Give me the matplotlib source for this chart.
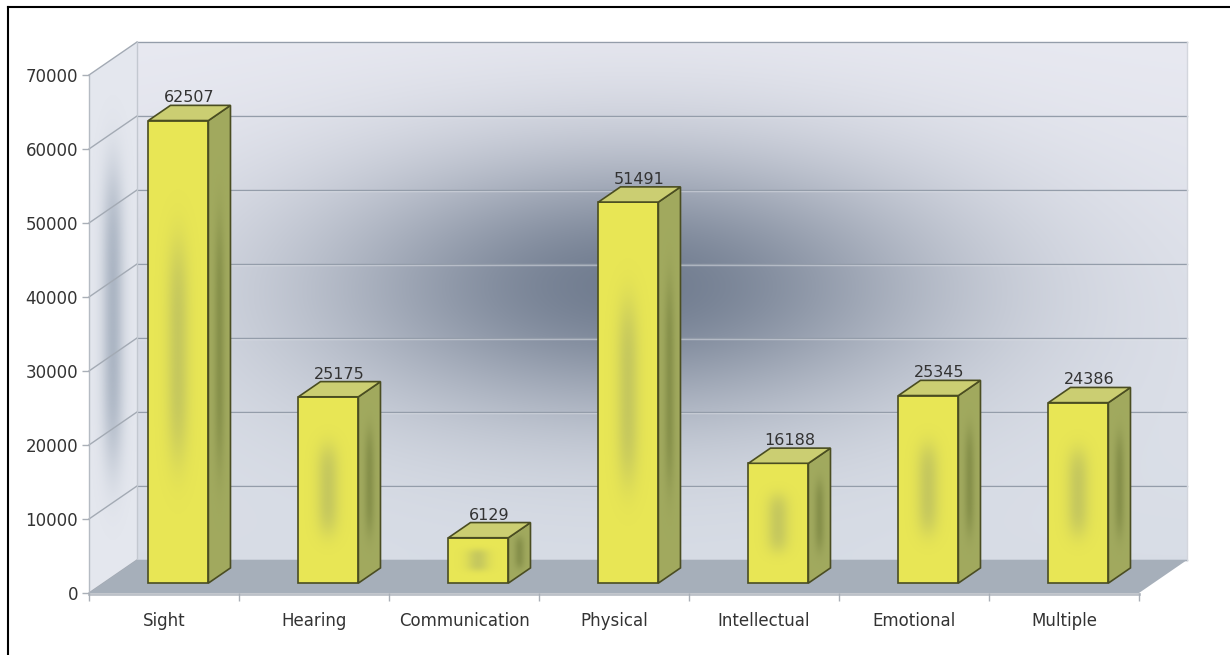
import numpy as np
import matplotlib
matplotlib.use("Agg")
import matplotlib.pyplot as plt
from matplotlib.colors import to_rgb
from matplotlib.lines import Line2D
from matplotlib.patches import Polygon
from matplotlib.transforms import ScaledTranslation, IdentityTransform

# ---- data -------------------------------------------------------------
categories = ["Sight", "Hearing", "Communication", "Physical",
              "Intellectual", "Emotional", "Multiple"]
counts = [62507, 25175, 6129, 51491, 16188, 25345, 24386]
y_ticks = [0, 10000, 20000, 30000, 40000, 50000, 60000, 70000]

# ---- layout -----------------------------------------------------------
W, H, DPI = 1230, 655, 100
DEPTH = (48.0, 33.0)              # oblique depth of the floor, in pixels
BAR_FRONT, BAR_BACK = 0.30, 0.76  # depth fractions of the bar faces
BAR_W = 0.4
TEXT = "#333333"
EDGE = "#4a4d21"

fig = plt.figure(figsize=(W / DPI, H / DPI), dpi=DPI)
fig.patch.set_facecolor("white")

# background layer in pixel units for the walls and floor
bg = fig.add_axes([0, 0, 1, 1])
bg.set_xlim(0, W)
bg.set_ylim(0, H)
bg.set_autoscale_on(False)
bg.axis("off")
bg.set_zorder(0)

# front plane of the chart
ax = fig.add_axes([89 / W, 62 / H, 1050 / W, 518 / H])
ax.set_zorder(1)
ax.patch.set_visible(False)
ymax = y_ticks[-1]
xl, xr = -0.5, len(categories) - 0.5
ax.set_xlim(xl, xr)
ax.set_ylim(0, ymax)
ax.set_autoscale_on(False)
for s in ax.spines.values():
    s.set_visible(False)


def shift(fx, fy=None, extra_y=0.0):
    if fy is None:
        fy = fx
    return ScaledTranslation(fx * DEPTH[0] / DPI, (fy * DEPTH[1] + extra_y) / DPI,
                             fig.dpi_scale_trans)


def proj(xv, v, f):
    """Display position of data point (xv, v) pushed back to depth f."""
    px, py = ax.transData.transform((xv, v))
    return (px + f * DEPTH[0], py + f * DEPTH[1])


def to_bg(pts):
    return bg.transData.inverted().transform(np.asarray(pts))


# ---- back wall with its soft dark glow ---------------------------------
(bx0, by0), = to_bg([proj(xl, 0, 1)])
(bx1, by1), = to_bg([proj(xr, ymax, 1)])
U, V = np.meshgrid(np.linspace(0, 1, 420), np.linspace(0, 1, 220))
top_c = np.array(to_rgb("#e8e9f1"))
bot_c = np.array(to_rgb("#d8dde6"))
base = bot_c + (top_c - bot_c) * V[..., None]
glow = 0.78 * np.exp(-((U - 0.47) / 0.30) ** 2 - ((V - 0.53) / 0.26) ** 2)
dark = np.array(to_rgb("#526076"))
wall = base * (1 - glow[..., None]) + dark * glow[..., None]
bg.imshow(wall, extent=(bx0, bx1, by0, by1), origin="lower", aspect="auto",
          interpolation="bilinear", zorder=1)

# ---- left side wall -----------------------------------------------------
lw_pts = to_bg([proj(xl, 0, 0), proj(xl, 0, 1), proj(xl, ymax, 1), proj(xl, ymax, 0)])
lpoly = Polygon(lw_pts, closed=True, facecolor="#e4e7ee", edgecolor="none", zorder=1)
bg.add_patch(lpoly)
lx0, ly0 = lw_pts.min(axis=0)
lx1, ly1 = lw_pts.max(axis=0)
gx = np.linspace(lx0, lx1, 80)
gy = np.linspace(ly0, ly1, 240)
GX, GY = np.meshgrid(gx, gy)
band_x = lx0 + 0.5 * (lx1 - lx0)
band_y = ly0 + 0.50 * (ly1 - ly0)
band = 0.55 * np.exp(-((GX - band_x) / 11) ** 2) * np.exp(-((GY - band_y) / 150) ** 4)
lrgba = np.zeros(GX.shape + (4,))
lrgba[..., :3] = to_rgb("#7f8ea2")
lrgba[..., 3] = band
im = bg.imshow(lrgba, extent=(lx0, lx1, ly0, ly1), origin="lower", aspect="auto",
               interpolation="bilinear", zorder=1.1)
im.set_clip_path(lpoly)

# ---- gridlines on the walls --------------------------------------------
for t in y_ticks:
    p = to_bg([proj(xl, t, 0), proj(xl, t, 1)])
    bg.plot(p[:, 0], p[:, 1], color="#a3aab4", lw=1.0, zorder=1.5)
    q = to_bg([proj(xl, t, 1), proj(xr, t, 1)])
    bg.plot(q[:, 0], q[:, 1] - 1, color="#f2f3f7", lw=1.0, alpha=0.5, zorder=1.5)
    bg.plot(q[:, 0], q[:, 1], color="#949daa", lw=1.0, zorder=1.5)

for pts, col in [([proj(xl, 0, 1), proj(xl, ymax, 1)], "#c3c8d0"),
                 ([proj(xr, 0, 1), proj(xr, ymax, 1)], "#d3d6dd"),
                 ([proj(xl, 0, 0), proj(xl, ymax, 0)], "#b5bbc3")]:
    p = to_bg(pts)
    bg.plot(p[:, 0], p[:, 1], color=col, lw=1.0, zorder=1.6)

# ---- floor --------------------------------------------------------------
fl = to_bg([proj(xl, 0, 0), proj(xr, 0, 0), proj(xr, 0, 1), proj(xl, 0, 1)])
bg.add_patch(Polygon(fl, closed=True, facecolor="#a6afba", edgecolor="none", zorder=2))
fe = to_bg([proj(xl, 0, 0), proj(xr, 0, 0)])
bg.plot(fe[:, 0], fe[:, 1] - 1, color="#bcc1c8", lw=2.0, zorder=2.1)

# ---- bars ---------------------------------------------------------------
x = np.arange(len(categories))
front_tf = ax.transData + shift(BAR_FRONT)
bars = ax.bar(x, counts, width=BAR_W, color="#e8e655", edgecolor=EDGE,
              linewidth=1.2, transform=front_tf, zorder=3)

hw = BAR_W / 2
SU, SV = np.meshgrid(np.linspace(0, 1, 40), np.linspace(0, 1, 160))
for i, v, rect in zip(x, counts, bars):
    # blurred streak on the front face
    a = 0.42 * np.exp(-((SU - 0.5) / 0.19) ** 2) * np.exp(-((SV - 0.5) / 0.24) ** 4)
    rgba = np.zeros(SU.shape + (4,))
    rgba[..., :3] = to_rgb("#97a06a")
    rgba[..., 3] = a
    im = ax.imshow(rgba, extent=(i - hw, i + hw, 0, v), origin="lower",
                   aspect="auto", interpolation="bilinear", transform=front_tf,
                   zorder=3.1)
    im.set_clip_path(rect)

    # side face
    side = np.array([proj(i + hw, 0, BAR_FRONT), proj(i + hw, 0, BAR_BACK),
                     proj(i + hw, v, BAR_BACK), proj(i + hw, v, BAR_FRONT)])
    spoly = Polygon(side, closed=True, transform=IdentityTransform(),
                    facecolor="#aab265", edgecolor="none", zorder=3)
    ax.add_patch(spoly)
    sx0, sy0 = side.min(axis=0)
    sx1, sy1 = side.max(axis=0)
    sa = 0.12 + 0.35 * np.exp(-((SU - 0.5) / 0.22) ** 2) * np.exp(-((SV - 0.5) / 0.26) ** 4)
    srgba = np.zeros(SU.shape + (4,))
    srgba[..., :3] = to_rgb("#5f6b2e")
    srgba[..., 3] = sa
    im2 = ax.imshow(srgba, extent=(sx0, sx1, sy0, sy1), origin="lower",
                    aspect="auto", interpolation="bilinear",
                    transform=IdentityTransform(), zorder=3.1)
    im2.set_clip_box(fig.bbox)
    im2.set_clip_path(spoly)
    ax.add_patch(Polygon(side, closed=True, transform=IdentityTransform(),
                         facecolor="none", edgecolor=EDGE, lw=1.2, zorder=3.3,
                         clip_on=False))

    # top face
    top = np.array([proj(i - hw, v, BAR_FRONT), proj(i + hw, v, BAR_FRONT),
                    proj(i + hw, v, BAR_BACK), proj(i - hw, v, BAR_BACK)])
    ax.add_patch(Polygon(top, closed=True, transform=IdentityTransform(),
                         facecolor="#cbce72", edgecolor=EDGE, lw=1.2, zorder=3.3,
                         clip_on=False))

    # value label above the bar
    ax.text(i, v, f"{v}", transform=ax.transData + shift((BAR_FRONT + BAR_BACK) / 2,
                                                         BAR_BACK, extra_y=0.0),
            ha="center", va="bottom", fontsize=11.5, color=TEXT, zorder=4,
            clip_on=False)

# ---- axes ticks and labels ----------------------------------------------
ax.set_yticks(y_ticks)
ax.set_yticklabels([str(t) for t in y_ticks])
ax.tick_params(axis="y", length=5, width=1, color="#a9afb7", pad=3,
               labelsize=12, labelcolor=TEXT)
ax.set_xticks(x)
ax.set_xticklabels(categories)
ax.tick_params(axis="x", which="major", length=0, pad=14, labelsize=12,
               labelcolor=TEXT)
ax.set_xticks(np.arange(xl, xr + 0.01, 1.0), minor=True)
ax.tick_params(axis="x", which="minor", length=6, width=1, color="#a9afb7")

# ---- frame --------------------------------------------------------------
fig.add_artist(Line2D([8 / W, 8 / W], [0, (H - 7) / H], transform=fig.transFigure,
                      color="black", lw=1.5))
fig.add_artist(Line2D([8 / W, 1], [(H - 7) / H, (H - 7) / H], transform=fig.transFigure,
                      color="black", lw=1.5))

fig.savefig("out.png", dpi=DPI)
